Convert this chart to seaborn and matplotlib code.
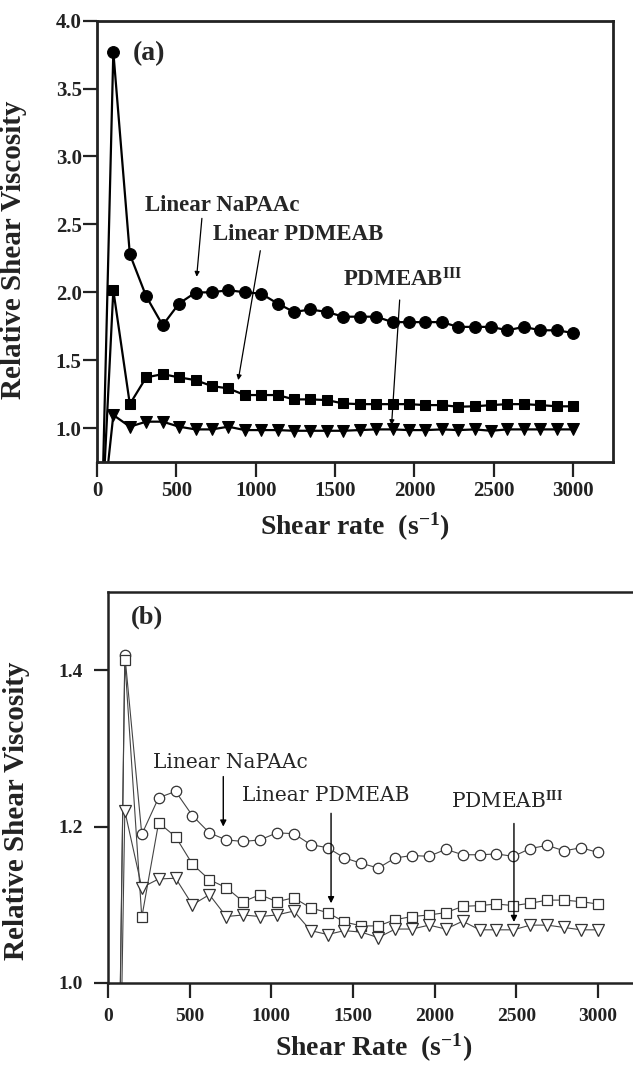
import matplotlib
matplotlib.use('Agg')
import matplotlib.pyplot as plt
import seaborn as sns
import pandas as pd

# ---------------- data ----------------
shear_rate = [30, 103, 207, 310, 414, 517, 621, 724, 828, 931, 1034, 1138, 1241, 1345,
              1448, 1552, 1655, 1759, 1862, 1966, 2069, 2172, 2276, 2379, 2483, 2586,
              2690, 2793, 2897, 3000]

# panel (a)
napaac_a = [0.3, 3.77, 2.28, 1.97, 1.757, 1.917, 1.998, 2.0, 2.015, 2.0, 1.99, 1.917,
            1.855, 1.873, 1.855, 1.82, 1.82, 1.82, 1.78, 1.78, 1.78, 1.78, 1.745, 1.745,
            1.745, 1.72, 1.745, 1.72, 1.72, 1.70]
pdmeab_a = [0.3, 2.015, 1.176, 1.373, 1.397, 1.373, 1.353, 1.309, 1.292, 1.243, 1.243,
            1.243, 1.211, 1.211, 1.206, 1.181, 1.176, 1.176, 1.176, 1.176, 1.169, 1.169,
            1.157, 1.16, 1.169, 1.176, 1.176, 1.169, 1.16, 1.16]
pdmeab3_a = [0.3, 1.096, 1.01, 1.047, 1.047, 1.01, 0.99, 0.99, 1.01, 0.985, 0.985, 0.985,
             0.98, 0.98, 0.98, 0.98, 0.985, 0.99, 0.99, 0.985, 0.985, 0.99, 0.985, 0.99,
             0.98, 0.99, 0.99, 0.99, 0.99, 0.99]

# panel (b)
napaac_b = [0.3, 1.42, 1.19, 1.237, 1.245, 1.214, 1.192, 1.183, 1.181, 1.183, 1.192, 1.191,
            1.177, 1.173, 1.160, 1.153, 1.147, 1.160, 1.163, 1.162, 1.171, 1.164, 1.164,
            1.165, 1.162, 1.172, 1.176, 1.169, 1.173, 1.167]
pdmeab_b = [0.3, 1.413, 1.084, 1.205, 1.187, 1.152, 1.132, 1.122, 1.104, 1.113, 1.104,
            1.109, 1.096, 1.090, 1.078, 1.073, 1.073, 1.081, 1.085, 1.087, 1.090, 1.098,
            1.099, 1.101, 1.099, 1.102, 1.106, 1.106, 1.104, 1.101]
pdmeab3_b = [0.3, 1.22, 1.122, 1.133, 1.134, 1.100, 1.113, 1.085, 1.087, 1.085, 1.087,
             1.092, 1.067, 1.062, 1.067, 1.065, 1.058, 1.069, 1.069, 1.074, 1.069, 1.079,
             1.068, 1.068, 1.068, 1.074, 1.074, 1.071, 1.068, 1.068]

x_ticks = [0, 500, 1000, 1500, 2000, 2500, 3000]
y_ticks_a = [1.0, 1.5, 2.0, 2.5, 3.0, 3.5, 4.0]
y_ticks_b = [1.0, 1.2, 1.4]

# ---------------- style ----------------
sns.set_theme(style='ticks')
plt.rcParams['font.family'] = ['Liberation Serif', 'DejaVu Serif']
plt.rcParams['font.weight'] = 'bold'
plt.rcParams['mathtext.fontset'] = 'custom'
plt.rcParams['mathtext.rm'] = 'Liberation Serif'
plt.rcParams['mathtext.bf'] = 'Liberation Serif:bold'
plt.rcParams['mathtext.it'] = 'Liberation Serif:italic'

fig = plt.figure(figsize=(6.33, 10.65), dpi=100)
axA = fig.add_axes([0.1532, 0.5662, 0.8152, 0.4144])
axB = fig.add_axes([0.1706, 0.0770, 0.8294, 0.3671])

# ---------------- panel (a) ----------------
common_a = dict(ax=axA, color='black', linewidth=1.6, estimator=None, sort=False,
                markeredgecolor='black', markerfacecolor='black', legend=False)
sns.lineplot(x=shear_rate, y=napaac_a, marker='o', markersize=8.5, **common_a)
sns.lineplot(x=shear_rate, y=pdmeab_a, marker='s', markersize=7.5, **common_a)
sns.lineplot(x=shear_rate, y=pdmeab3_a, marker='v', markersize=8.5, **common_a)

axA.set_xlim(0, 3251)
axA.set_ylim(0.75, 4.0)
axA.set_xticks(x_ticks)
axA.set_xticklabels([str(t) for t in x_ticks])
axA.set_yticks(y_ticks_a)
axA.set_yticklabels([f'{t:.1f}' for t in y_ticks_a])
axA.tick_params(axis='y', direction='out', length=10, width=1.6, pad=1, labelsize=15, colors='#222222')
axA.tick_params(axis='x', direction='out', length=11, width=1.6, pad=3, labelsize=15, colors='#222222')
for s in axA.spines.values():
    s.set_linewidth(2.0)
    s.set_color('#222222')

axA.set_ylabel('Relative Shear Viscosity', fontsize=21, fontweight='bold', color='#222222')
axA.yaxis.set_label_coords(-0.136, 0.48)
axA.set_xlabel(r'Shear rate  (s$^{\mathbf{-1}}$)', fontsize=20, fontweight='bold', color='#222222')
axA.xaxis.label.set_va('center')
axA.xaxis.set_label_coords(0.5, -0.147)

axA.text(228, 3.76, '(a)', fontsize=20, fontweight='bold', ha='left', va='center')
axA.text(300, 2.64, 'Linear NaPAAc', fontsize=16.5, fontweight='bold', ha='left', va='center')
axA.text(729, 2.425, 'Linear PDMEAB', fontsize=16.5, fontweight='bold', ha='left', va='center')
axA.text(1550, 2.09, r'PDMEAB$^{\mathbf{III}}$', fontsize=16.5, fontweight='bold', ha='left', va='center')

arrow_a = dict(arrowstyle='-|>', lw=0.9, color='black', mutation_scale=7, shrinkA=0, shrinkB=0)
axA.annotate('', xy=(628, 2.114), xytext=(661, 2.544), arrowprops=arrow_a)
axA.annotate('', xy=(890, 1.353), xytext=(1029, 2.306), arrowprops=arrow_a)
axA.annotate('', xy=(1856, 1.022), xytext=(1907, 1.943), arrowprops=arrow_a)

# ---------------- panel (b) ----------------
common_b = dict(ax=axB, color='#444444', linewidth=0.8, estimator=None, sort=False,
                markeredgecolor='#333333', markerfacecolor='white', markeredgewidth=0.9,
                legend=False)
sns.lineplot(x=shear_rate, y=napaac_b, marker='o', markersize=7.5, **common_b)
sns.lineplot(x=shear_rate, y=pdmeab_b, marker='s', markersize=7, **common_b)
sns.lineplot(x=shear_rate, y=pdmeab3_b, marker='v', markersize=8, **common_b)

axB.set_xlim(0, 3215)
axB.set_ylim(1.0, 1.5)
axB.set_xticks(x_ticks)
axB.set_xticklabels([str(t) for t in x_ticks])
axB.set_yticks(y_ticks_b)
axB.set_yticklabels([f'{t:.1f}' for t in y_ticks_b])
axB.tick_params(axis='y', direction='out', length=10, width=1.6, pad=8, labelsize=14, colors='#222222')
axB.tick_params(axis='x', direction='out', length=11, width=1.6, pad=7, labelsize=14, colors='#222222')
axB.spines['right'].set_visible(False)
for k in ['left', 'top', 'bottom']:
    axB.spines[k].set_linewidth(1.8)
    axB.spines[k].set_color('#222222')

axB.set_ylabel('Relative Shear Viscosity', fontsize=21, fontweight='bold', color='#222222')
axB.yaxis.set_label_coords(-0.149, 0.44)
axB.set_xlabel(r'Shear Rate  (s$^{\mathbf{-1}}$)', fontsize=20, fontweight='bold', color='#222222')
axB.xaxis.label.set_va('center')
axB.xaxis.set_label_coords(0.506, -0.166)

axB.text(143, 1.468, '(b)', fontsize=19, fontweight='bold', ha='left', va='center')
axB.text(273, 1.282, 'Linear NaPAAc', fontsize=14.5, fontweight='normal',
         family=['DejaVu Serif'], ha='left', va='center')
axB.text(821, 1.240, 'Linear PDMEAB', fontsize=14.5, fontweight='normal',
         family=['DejaVu Serif'], ha='left', va='center')
axB.text(2101, 1.233, r'PDMEAB$^{\mathrm{III}}$', fontsize=14.5, fontweight='normal',
         family=['DejaVu Serif'], ha='left', va='center')

arrow_b = dict(arrowstyle='-|>', lw=1.0, color='black', mutation_scale=9, shrinkA=0, shrinkB=0)
axB.annotate('', xy=(706, 1.200), xytext=(706, 1.264), arrowprops=arrow_b)
axB.annotate('', xy=(1366, 1.102), xytext=(1366, 1.217), arrowprops=arrow_b)
axB.annotate('', xy=(2486, 1.078), xytext=(2486, 1.204), arrowprops=arrow_b)

fig.savefig('out.png', dpi=100)
